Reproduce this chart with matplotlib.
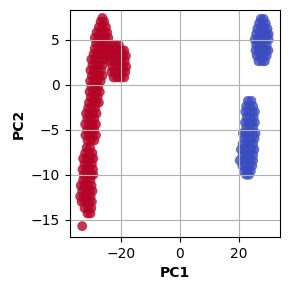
import matplotlib

matplotlib.use("Agg")
import matplotlib.pyplot as plt

# PCA scores (one source line per band of PC2)
red_pc1 = [
    -31.5, -30.5,
    -32.5, -31.3, -30.2,
    -33.5, -32.3, -31.0, -30.0,
    -34.0, -32.8, -31.6, -30.4,
    -33.3, -32.0, -30.8, -29.8,
    -33.8, -32.5, -31.3, -30.1,
    -33.0, -31.8, -30.5,
    -32.8, -31.5, -30.2, -29.5,
    -33.2, -32.0, -30.8, -29.6,
    -32.5, -31.3, -30.0,
    -33.0, -31.8, -30.5, -29.5,
    -32.3, -31.0, -29.8,
    -31.8, -30.6,
    -31.5, -30.3, -29.2,
    -32.2, -31.0, -29.8, -28.6,
    -31.6, -30.4, -29.2,
    -32.3, -31.0, -29.8, -28.6,
    -31.6, -30.4, -29.2,
    -32.0, -30.8, -29.6, -28.4,
    -31.3, -30.1, -28.9,
    -31.0, -29.8, -28.6, -27.6,
    -30.4, -29.2, -28.0,
    -30.8, -29.6, -28.4, -27.3,
    -30.2, -29.0, -27.8,
    -30.6, -29.4, -28.2, -27.0,
    -30.0, -28.8, -27.6, -26.4,
    -30.5, -29.3, -28.1, -26.9,
    -29.8, -28.6, -27.4, -26.2,
    -30.2, -29.0, -27.8, -26.6, -25.4,
    -29.4, -28.2, -27.0, -25.8, -24.6,
    -29.0, -27.8, -26.6, -25.4, -24.2,
    -28.6, -27.4, -26.2, -25.0,
    -29.0, -27.8, -26.6, -25.4, -24.4,
    -28.4, -27.2, -26.0, -24.8,
    -27.6, -26.4, -25.2,
    -27.0, -25.8,
    -26.4,
    -23.2, -22.0, -20.8,
    -23.6, -22.4, -21.2, -20.0, -19.0,
    -23.0, -21.8, -20.6, -19.4, -18.4,
    -23.6, -22.4, -21.2, -20.0, -18.8,
    -23.0, -21.8, -20.6, -19.4, -18.3,
    -23.4, -22.2, -21.0, -19.8, -18.6,
    -22.6, -21.4, -20.2, -19.0,
    -33.3,
]
red_pc2 = [
    -14.3, -14.3,
    -13.7, -13.7, -13.7,
    -13.0, -13.0, -13.0, -13.0,
    -12.4, -12.4, -12.4, -12.4,
    -11.8, -11.8, -11.8, -11.8,
    -11.2, -11.2, -11.2, -11.2,
    -10.6, -10.6, -10.6,
    -10.0, -10.0, -10.0, -10.0,
    -9.4, -9.4, -9.4, -9.4,
    -8.8, -8.8, -8.8,
    -8.2, -8.2, -8.2, -8.2,
    -7.6, -7.6, -7.6,
    -7.0, -7.0,
    -6.2, -6.2, -6.2,
    -5.6, -5.6, -5.6, -5.6,
    -5.0, -5.0, -5.0,
    -4.4, -4.4, -4.4, -4.4,
    -3.8, -3.8, -3.8,
    -3.2, -3.2, -3.2, -3.2,
    -2.6, -2.6, -2.6,
    -2.0, -2.0, -2.0, -2.0,
    -1.4, -1.4, -1.4,
    -0.8, -0.8, -0.8, -0.8,
    -0.2, -0.2, -0.2,
    0.4, 0.4, 0.4, 0.4,
    1.0, 1.0, 1.0, 1.0,
    1.6, 1.6, 1.6, 1.6,
    2.2, 2.2, 2.2, 2.2,
    2.8, 2.8, 2.8, 2.8, 2.8,
    3.4, 3.4, 3.4, 3.4, 3.4,
    4.0, 4.0, 4.0, 4.0, 4.0,
    4.6, 4.6, 4.6, 4.6,
    5.2, 5.2, 5.2, 5.2, 5.2,
    5.8, 5.8, 5.8, 5.8,
    6.4, 6.4, 6.4,
    7.0, 7.0,
    7.4,
    4.4, 4.4, 4.4,
    3.8, 3.8, 3.8, 3.8, 3.8,
    3.2, 3.2, 3.2, 3.2, 3.2,
    2.6, 2.6, 2.6, 2.6, 2.6,
    2.0, 2.0, 2.0, 2.0, 2.0,
    1.4, 1.4, 1.4, 1.4, 1.4,
    0.8, 0.8, 0.8, 0.8,
    -15.7,
]

blue_pc1 = [
    27.6, 28.6,
    27.0, 28.2, 29.3,
    26.4, 27.6, 28.8, 29.9,
    26.0, 27.2, 28.4, 29.6, 30.3,
    25.5, 26.7, 27.9, 29.1, 30.3,
    26.0, 27.2, 28.4, 29.6,
    25.8, 27.0, 28.2, 29.4, 30.2,
    26.2, 27.4, 28.6, 29.6,
    26.8, 28.0, 29.0,
    23.2, 24.4,
    22.6, 23.8, 25.0,
    22.3, 23.5, 24.7, 25.6,
    22.8, 24.0, 25.2,
    22.2, 23.4, 24.6, 25.6,
    22.6, 23.8, 25.0,
    21.5, 22.5, 23.7, 24.9, 25.8,
    22.1, 23.3, 24.5, 25.5,
    21.4, 22.6, 23.8, 25.0,
    20.8, 22.0, 23.2, 24.4, 25.4,
    21.4, 22.6, 23.8, 25.0,
    20.4, 21.6, 22.8, 24.0, 25.0,
    21.3, 22.5, 23.7, 24.7,
    21.8, 23.0, 24.2,
    22.6, 23.6,
]
blue_pc2 = [
    7.3, 7.3,
    6.8, 6.8, 6.8,
    6.2, 6.2, 6.2, 6.2,
    5.6, 5.6, 5.6, 5.6, 5.6,
    5.0, 5.0, 5.0, 5.0, 5.0,
    4.4, 4.4, 4.4, 4.4,
    3.8, 3.8, 3.8, 3.8, 3.8,
    3.2, 3.2, 3.2, 3.2,
    2.6, 2.6, 2.6,
    -1.8, -1.8,
    -2.4, -2.4, -2.4,
    -3.0, -3.0, -3.0, -3.0,
    -3.6, -3.6, -3.6,
    -4.2, -4.2, -4.2, -4.2,
    -4.8, -4.8, -4.8,
    -5.4, -5.4, -5.4, -5.4, -5.4,
    -6.0, -6.0, -6.0, -6.0,
    -6.6, -6.6, -6.6, -6.6,
    -7.2, -7.2, -7.2, -7.2, -7.2,
    -7.8, -7.8, -7.8, -7.8,
    -8.4, -8.4, -8.4, -8.4, -8.4,
    -9.0, -9.0, -9.0, -9.0,
    -9.6, -9.6, -9.6,
    -10.0, -10.0,
]

fig = plt.figure(figsize=(2.9, 2.9), dpi=100)
ax = fig.add_axes([0.241, 0.183, 0.725, 0.783])
ax.scatter(red_pc1, red_pc2, s=50, color="#b40426", alpha=0.8, edgecolors="none")
ax.scatter(blue_pc1, blue_pc2, s=50, color="#3b4cc0", alpha=0.8, edgecolors="none")
ax.set_xlim(-37.5, 34.2)
ax.set_ylim(-16.9, 8.3)
ax.set_xticks([-20, 0, 20])
ax.set_yticks([-15, -10, -5, 0, 5])
ax.grid(True, color="#b0b0b0")
ax.set_xlabel("PC1", fontweight="bold")
ax.set_ylabel("PC2", fontweight="bold")
fig.savefig("out.png", dpi=100)
